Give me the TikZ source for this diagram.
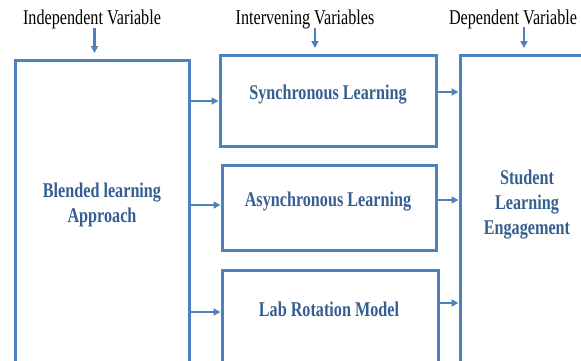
\documentclass[tikz,border=0pt]{standalone}
\usepackage{fontspec}
\setmainfont{Liberation Serif}[FakeStretch=0.77]
\usetikzlibrary{arrows.meta}
\definecolor{boxblue}{HTML}{4F81BD}
\definecolor{txtblue}{HTML}{365F91}
\begin{document}
\begin{tikzpicture}[
  x=1pt,y=-1pt,
  >={Triangle[width=7pt,length=7pt]},
  box/.style={rectangle,draw=boxblue,line width=3pt,inner sep=0pt},
  lbl/.style={text=txtblue,align=center,font=\bfseries\fontsize{21}{25}\selectfont},
  heading/.style={font=\fontsize{21}{24}\selectfont},
  edge/.style={->,draw=boxblue,line width=2.4pt}
]
\useasboundingbox (0,0) rectangle (581,360);
\clip (0,0) rectangle (581,360);
% boxes
\node[box,minimum width=174pt,minimum height=360pt] (blend) at (102,240) {};
\node[box,minimum width=216pt,minimum height=91pt] (sync) at (328,100.5) {};
\node[box,minimum width=214pt,minimum height=85pt] (async) at (329,207.5) {};
\node[box,minimum width=216pt,minimum height=150pt] (lab) at (330,345) {};
\node[box,minimum width=180pt,minimum height=365pt] (engage) at (550,237.5) {};
% labels
\node[lbl] (blendtxt) at (102,205) {Blended learning\\Approach};
\node[lbl] (synctxt) at (328,95) {Synchronous Learning};
\node[lbl] (asynctxt) at (328,202) {Asynchronous Learning};
\node[lbl] (labtxt) at (329,309) {Lab Rotation Model};
\node[lbl] (engagetxt) at (527,205) {Student\\Learning\\Engagement};
% headings
\node[heading] (indep) at (92,19) {Independent Variable};
\node[heading] (interv) at (305,19) {Intervening Variables};
\node[heading] (dep) at (513,19) {Dependent Variable};
\draw[edge] (94.5,28) -- (94.5,53);
\draw[edge] (315,28) -- (315,48);
\draw[edge] (524,27) -- (524,48);
% links
\draw[edge] ([yshift=-6pt]blend.east |- synctxt) -- ([yshift=-6pt]sync.west |- synctxt);
\draw[edge] ([yshift=-3pt]blend.east |- asynctxt) -- ([yshift=-3pt]async.west |- asynctxt);
\draw[edge] ([yshift=-3pt]blend.east |- labtxt) -- ([yshift=-3pt]lab.west |- labtxt);
\draw[edge] ([yshift=3pt]sync.east |- synctxt) -- ([yshift=3pt]engage.west |- synctxt);
\draw[edge] ([yshift=2pt]async.east |- asynctxt) -- ([yshift=2pt]engage.west |- asynctxt);
\draw[edge] ([yshift=6pt]lab.east |- labtxt) -- ([yshift=6pt]engage.west |- labtxt);
\end{tikzpicture}
\end{document}
